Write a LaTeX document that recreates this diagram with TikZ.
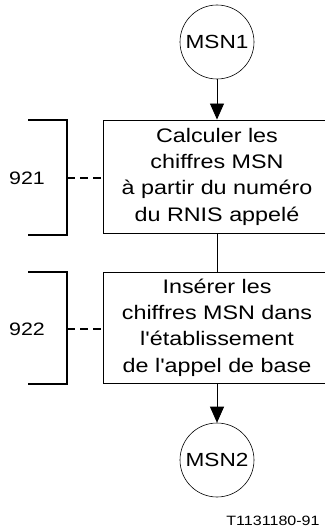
\documentclass[tikz,border=0pt]{standalone}
\usepackage{fontspec}
\setmainfont{Liberation Sans}[FakeStretch=1.19, Ligatures=TeXOff]
\usetikzlibrary{arrows.meta}
\begin{document}
\begin{tikzpicture}[x=1pt, y=-1pt,
    conn/.style={draw, circle, minimum size=74pt, inner sep=0pt, line width=0.6pt, font=\fontsize{19}{23}\selectfont},
    task/.style={draw, rectangle, minimum width=228pt, inner sep=0pt, align=center, line width=0.9pt, font=\fontsize{19.6}{26.3}\selectfont},
    brack/.style={line width=2.6pt},
    link/.style={line width=2.6pt, dash pattern=on 8pt off 5pt},
    flow/.style={-{Triangle[length=16pt,width=14pt]}, line width=0.8pt}]
      \useasboundingbox (0,0) rectangle (324,529);
      % Flow chart
      \node[conn] (msn1) at (217,42) {MSN1};
      \node[task, minimum height=113pt] (calc) at (217,176.5) {Calculer les\\chiffres MSN\\à partir du numéro\\du RNIS appelé};
      \node[task, minimum height=111pt] (ins) at (217,327.5) {Insérer les\\chiffres MSN dans\\l'établissement\\de l'appel de base};
      \node[conn] (msn2) at (217,460) {MSN2};
      \draw[flow] (msn1) -- (calc);
      \draw[line width=0.8pt] (calc) -- (ins);
      \draw[flow] (ins) -- (msn2);
      % Brackets with references
      \coordinate (b1) at (67,178);
      \coordinate (b2) at (67,329);
      \draw[brack] (28,120) -- (67,120) -- (67,235) -- (28,235);
      \draw[brack] (28,272) -- (67,272) -- (67,384) -- (28,384);
      \draw[link] (b1) -- (calc.west |- b1);
      \draw[link] (b2) -- (ins.west |- b2);
      \node[font=\fontsize{18}{20}\selectfont] (r921) at (27,178) {921};
      \node[font=\fontsize{18}{20}\selectfont] (r922) at (27,329) {922};
      \node[font=\fontsize{13.5}{16}\selectfont] (fig) at (273,521) {T1131180-91};
\end{tikzpicture}
\end{document}
